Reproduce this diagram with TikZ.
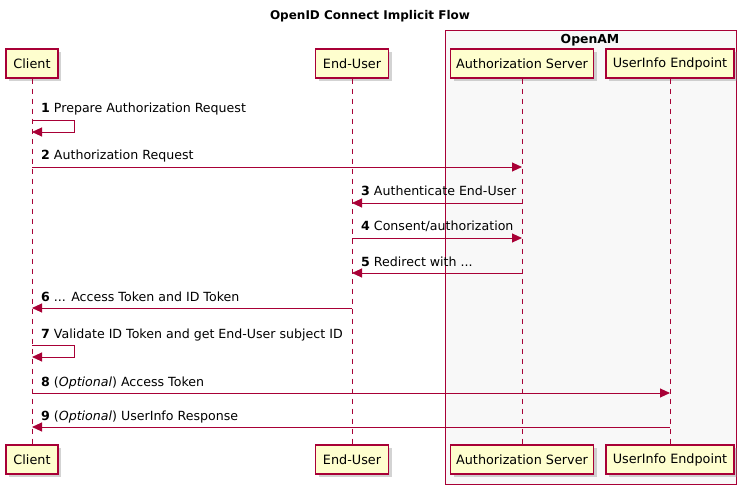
\documentclass[tikz,border=0pt]{standalone}
\usepackage{fontspec}
\setmainfont{DejaVu Sans}
\usetikzlibrary{arrows.meta,shadows}

\definecolor{umlred}{HTML}{A80036}
\definecolor{umlfill}{HTML}{FEFECE}
\definecolor{groupfill}{HTML}{F8F8F8}

\begin{document}
\begin{tikzpicture}[x=1pt,y=-1pt,
    participant/.style={draw=umlred, fill=umlfill, line width=1.1pt, minimum height=29pt,
        inner xsep=0pt, font=\fontsize{12.8}{15}\selectfont,
        drop shadow={shadow xshift=3pt, shadow yshift=-3pt, opacity=0.35, fill=gray}},
    lifeline/.style={draw=umlred, line width=0.9pt, dash pattern=on 5pt off 5pt},
    msg/.style={draw=umlred, line width=0.9pt, -{Triangle[length=10pt,width=9pt]}},
    msglabel/.style={anchor=base west, inner sep=0pt, font=\fontsize{12.6}{15}\selectfont}]

    %% page size
    \useasboundingbox (0,0) rectangle (741,486);

    %% the OpenAM group, drawn first so that everything sits on top of it
    \draw[draw=umlred, fill=groupfill, line width=0.8pt] (445,30) rectangle (736,484);
    \node[font=\bfseries\fontsize{12.4}{14}\selectfont] (openam) at (590,40) {OpenAM};

    \node[font=\bfseries\fontsize{12}{14}\selectfont] (title) at (370,16) {OpenID Connect Implicit Flow};

    %% participants on top
    \node[participant, minimum width=52pt]  (client) at (32,63.5)  {Client};
    \node[participant, minimum width=73pt]  (user)   at (352,63.5) {End-User};
    \node[participant, minimum width=143pt] (auth)   at (522,63.5) {Authorization Server};
    \node[participant, minimum width=128pt] (info)   at (670,63.5) {UserInfo Endpoint};

    %% participants at the bottom
    \node[participant, minimum width=52pt]  (clientB) at (32,459.5)  {Client};
    \node[participant, minimum width=73pt]  (userB)   at (352,459.5) {End-User};
    \node[participant, minimum width=143pt] (authB)   at (522,459.5) {Authorization Server};
    \node[participant, minimum width=128pt] (infoB)   at (670,459.5) {UserInfo Endpoint};

    %% lifelines
    \draw[lifeline] (client) -- (clientB);
    \draw[lifeline] (user) -- (userB);
    \draw[lifeline] (auth) -- (authB);
    \draw[lifeline] (info) -- (infoB);

    %% self messages
    \draw[msg] (client |- 0,120) -- (74,120) -- (74,132) -- (client |- 0,132);
    \node[msglabel] (m1) at (41,113) {\textbf{1} Prepare Authorization Request};
    \draw[msg] (client |- 0,345) -- (74,345) -- (74,357) -- (client |- 0,357);
    \node[msglabel] (m7) at (41,338) {\textbf{7} Validate ID Token and get End-User subject ID};

    %% messages between participants: y / from / to / where the label starts / label
    \foreach \y/\a/\b/\s/\t in {
        167/client/auth/client/{\textbf{2} Authorization Request},
        203/auth/user/user/{\textbf{3} Authenticate End-User},
        238/user/auth/user/{\textbf{4} Consent/authorization},
        273/auth/user/user/{\textbf{5} Redirect with ...},
        308/user/client/client/{\textbf{6} ... Access Token and ID Token},
        393/client/info/client/{\textbf{8} (\textit{Optional}) Access Token},
        427/info/client/client/{\textbf{9} (\textit{Optional}) UserInfo Response}} {
        \draw[msg] (\a |- 0,\y) -- (\b |- 0,\y);
        \node[msglabel] at ([xshift=9pt]\s |- 0,\y-7) {\t};
    }

\end{tikzpicture}
\end{document}
